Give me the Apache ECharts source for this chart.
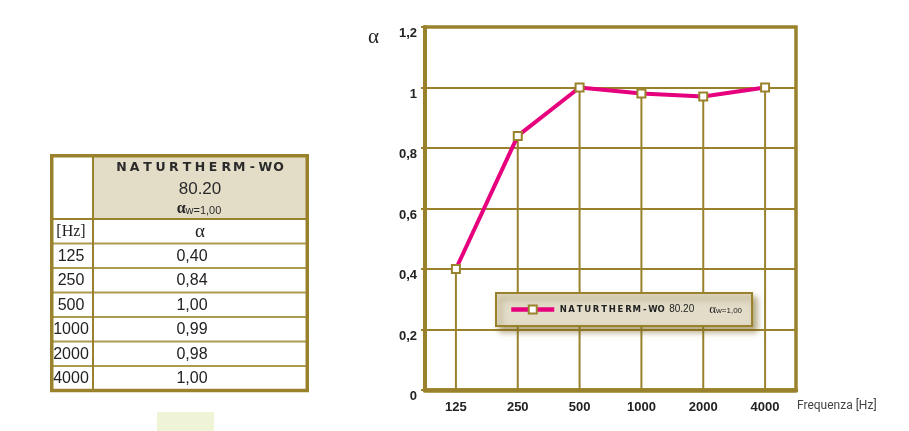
<!DOCTYPE html>
<html>
<head>
<meta charset="utf-8">
<script src="https://cdn.jsdelivr.net/npm/echarts@6/dist/echarts.min.js"></script>
<style>html,body{margin:0;padding:0;background:#fff}#c{width:909px;height:431px}</style>
</head>
<body>
<div id="c"></div>
<script>
// ---- data ----
const categories = ['125', '250', '500', '1000', '2000', '4000'];
const alphaChart = [0.40, 0.84, 1.00, 0.98, 0.97, 1.00];
const alphaTable = [0.40, 0.84, 1.00, 0.99, 0.98, 1.00];
const productName = 'NATURTHERM-WO';
const productCode = '80.20';
const alphaW = '1,00';
const yMin = 0, yMax = 1.2, yStep = 0.2;
const xAxisTitle = 'Frequenza [Hz]';
const yAxisTitle = 'α';
const tableHead = ['[Hz]', 'α'];

// ---- styles ----
const OLIVE = '#9a822c';
const OLIVE_L = '#ab9a50';
const BEIGE = '#e3ddc8';
const SANS = 'Liberation Sans, Arial, sans-serif';
const SERIF = 'Liberation Serif, Times New Roman, serif';
const WIDE = 'DejaVu Sans, sans-serif';

function spaced(str, key) {
  return str.split('').map(ch => '{' + key + '|' + ch + '}').join('');
}
const fmtComma = v => v.toFixed(2).replace('.', ',');

const chart = echarts.init(document.getElementById('c'), null, {renderer: 'canvas'});

// ---- table graphic ----
const tX = 50, tY = 154, tW = 259, colDiv = 93, headBottom = 219, rowH = 24.5;
const rows = [tableHead].concat(categories.map((c, i) => [c, fmtComma(alphaTable[i])]));
const tBottom = headBottom + rowH * rows.length;
const g = [];
g.push({type: 'rect', shape: {x: tX + 1.75, y: tY + 1.75, width: tW - 3.5, height: tBottom - tY - 1.75}, style: {fill: '#fff', stroke: null}, z: 1});
g.push({type: 'rect', shape: {x: colDiv, y: tY + 2, width: tX + tW - 2 - colDiv, height: headBottom - tY - 2}, style: {fill: BEIGE}, z: 2});
for (let i = 1; i < rows.length; i++) {
  const y = headBottom + rowH * i;
  g.push({type: 'line', shape: {x1: tX + 2, y1: y, x2: tX + tW - 2, y2: y}, style: {stroke: OLIVE_L, lineWidth: 2}, z: 3});
}
g.push({type: 'line', shape: {x1: tX + 2, y1: headBottom, x2: tX + tW - 2, y2: headBottom}, style: {stroke: OLIVE, lineWidth: 2}, z: 3});
g.push({type: 'line', shape: {x1: colDiv, y1: tY + 2, x2: colDiv, y2: tBottom}, style: {stroke: OLIVE, lineWidth: 2}, z: 3});
g.push({type: 'rect', shape: {x: tX + 1.75, y: tY + 1.75, width: tW - 3.5, height: tBottom - tY - 1.75}, style: {fill: null, stroke: OLIVE, lineWidth: 3.5}, z: 4});
// header texts
g.push({type: 'text', z: 5, style: {x: 200, y: 168, text: spaced(productName, 's'), align: 'center', verticalAlign: 'middle',
  rich: {s: {width: 13.1, align: 'center', fontSize: 12.5, fontWeight: 'bold', fontFamily: WIDE, fill: '#2a2a2a'}}}});
g.push({type: 'text', z: 5, style: {x: 200, y: 189, text: productCode, align: 'center', verticalAlign: 'middle', fontSize: 17, fontFamily: SANS, fill: '#2a2a2a'}});
g.push({type: 'text', z: 5, style: {x: 199, y: 209, text: '{a|α}{w|w=' + alphaW + '}', align: 'center', verticalAlign: 'middle',
  rich: {a: {fontSize: 16, fontFamily: SERIF, fontWeight: 'bold', fill: '#2a2a2a'}, w: {fontSize: 11, fontFamily: SANS, fill: '#2a2a2a', padding: [3, 0, 0, 0]}}}});
rows.forEach((r, i) => {
  const cy = headBottom + rowH * i + rowH / 2 + 0.5;
  const isHead = i === 0;
  g.push({type: 'text', z: 5, style: {x: 71, y: cy, text: r[0], align: 'center', verticalAlign: 'middle',
    fontSize: 16, fontFamily: isHead ? SERIF : SANS, fill: '#222'}});
  g.push({type: 'text', z: 5, style: {x: isHead ? 200 : 192, y: cy, text: r[1], align: 'center', verticalAlign: 'middle',
    fontSize: isHead ? 19 : 16, fontFamily: isHead ? SERIF : SANS, fill: '#222'}});
});
// axis titles
g.push({type: 'text', z: 5, style: {x: 368, y: 37, text: yAxisTitle, align: 'left', verticalAlign: 'middle', fontSize: 21, fontFamily: SERIF, fill: '#222'}});
g.push({type: 'text', z: 5, style: {x: 797, y: 406, text: xAxisTitle, align: 'left', verticalAlign: 'middle', fontSize: 12, fontFamily: 'Roboto, sans-serif', fill: '#444'}});
// small pale rectangle
g.push({type: 'rect', z: 1, shape: {x: 157, y: 412, width: 57, height: 19}, style: {fill: '#eff4d6'}});

const option = {
  backgroundColor: '#fff',
  animation: false,
  grid: {left: 425, right: 113, top: 27, bottom: 41, show: true, borderColor: OLIVE, borderWidth: 3.5, backgroundColor: 'transparent'},
  xAxis: {
    type: 'category', data: categories, boundaryGap: true,
    axisLine: {lineStyle: {color: OLIVE, width: 4.5}},
    axisTick: {show: false},
    splitLine: {show: false},
    axisLabel: {margin: 11, fontSize: 13, fontWeight: 'bold', fontFamily: SANS, color: '#222'}
  },
  yAxis: {
    type: 'value', min: yMin, max: yMax, interval: yStep,
    axisLine: {show: true, lineStyle: {color: OLIVE, width: 4}},
    axisTick: {show: true, length: 4, lineStyle: {color: OLIVE, width: 2}},
    splitLine: {show: true, lineStyle: {color: OLIVE, width: 2}},
    axisLabel: {margin: 8, fontSize: 13, fontWeight: 'bold', fontFamily: SANS, color: '#222', verticalAlign: 'top',
      formatter: v => String(Math.round(v * 10) / 10).replace('.', ',')}
  },
  legend: {
    data: [productName],
    left: 496, top: 293,
    padding: [10, 10, 10, 13],
    itemWidth: 43, itemHeight: 10,
    lineStyle: {width: 4.5, color: '#e6007e'},
    backgroundColor: '#e2dcc8', borderColor: OLIVE, borderWidth: 2,
    shadowColor: 'rgba(120,100,30,0.55)', shadowBlur: 6, shadowOffsetX: 4, shadowOffsetY: 5,
    formatter: () => spaced(productName, 's') + '{c|' + productCode + '}{a|α}{w|w=' + alphaW + '}',
    textStyle: {
      rich: {
        s: {width: 8.15, align: 'center', fontSize: 8.5, fontWeight: 'bold', fontFamily: WIDE, color: '#222'},
        c: {fontSize: 10, fontFamily: SANS, color: '#222', padding: [0, 0, 0, 4]},
        a: {fontSize: 13, fontFamily: SERIF, color: '#222', padding: [0, 0, 0, 15]},
        w: {fontSize: 8, fontFamily: SANS, color: '#222', padding: [3, 0, 0, 0]}
      }
    }
  },
  series: [
    {
      type: 'bar', data: alphaChart, barWidth: 2, silent: true, z: 1,
      itemStyle: {color: OLIVE}, legendHoverLink: false
    },
    {
      name: productName, type: 'line', data: alphaChart, z: 3,
      symbol: 'rect', symbolSize: 8, showAllSymbol: true,
      lineStyle: {color: '#e6007e', width: 4},
      itemStyle: {color: '#fff', borderColor: OLIVE, borderWidth: 2}
    }
  ],
  graphic: g
};
chart.setOption(option);
</script>
</body>
</html>
